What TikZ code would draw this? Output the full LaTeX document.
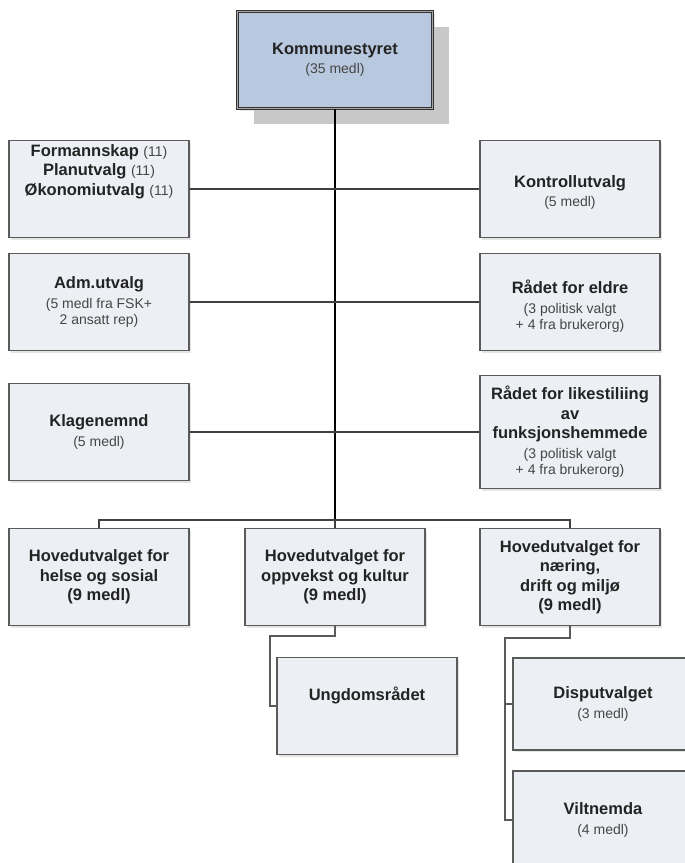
\documentclass[tikz,border=0pt]{standalone}
\usepackage{fontspec}
\setmainfont{Liberation Sans}
\usetikzlibrary{shadows}

\definecolor{boxfill}{RGB}{236,239,243}
\definecolor{boxline}{RGB}{90,90,90}
\definecolor{ksfill}{RGB}{184,200,222}
\definecolor{shadowgray}{RGB}{200,200,200}
\definecolor{txtdark}{RGB}{35,35,35}
\definecolor{txtgray}{RGB}{70,70,70}

\newcommand{\medl}[1]{{\fontsize{14}{17}\selectfont\mdseries\color{txtgray}#1}}

\tikzset{
  unit/.style={draw=boxline, fill=boxfill, line width=1.4pt, minimum width=180pt,
    minimum height=97pt, align=center, inner sep=2pt, text=txtdark,
    font=\fontsize{16.5}{19.5}\selectfont\bfseries,
    drop shadow={shadow xshift=2pt, shadow yshift=-2pt, fill=black!10, opacity=1}},
  trunk/.style={draw=black, line width=2pt},
  link/.style={draw=black!75, line width=1.4pt},
  sublink/.style={draw=boxline, line width=1.8pt},
}

\begin{document}
\begin{tikzpicture}[x=1pt, y=-1pt]
\fill[white] (0,0) rectangle (685,863);
\useasboundingbox (0,0) rectangle (685,863);
\clip (0,0) rectangle (685,863);

% top
\node[unit, fill=ksfill, minimum width=195pt, minimum height=97pt, draw=black!80,
  double=black!35, double distance=1pt, line width=1.1pt,
  drop shadow={shadow xshift=16pt, shadow yshift=-15pt, fill=shadowgray, opacity=1}]
  (ks) at (335,60) {Kommunestyret\\\medl{(35 medl)}};

% left and right column
\node[unit, text depth=38pt] (fsk) at (99,189)
  {Formannskap \medl{(11)}\\Planutvalg \medl{(11)}\\Økonomiutvalg \medl{(11)}};
\node[unit, text height=38pt] (kon) at (570,189) {Kontrollutvalg\\\medl{(5 medl)}};
\node[unit] (adm) at (99,302) {Adm.utvalg\\\medl{(5 medl fra FSK+}\\[-3pt]\medl{2 ansatt rep)}};
\node[unit, text height=58pt] (eld) at (570,302) {Rådet for eldre\\\medl{(3 politisk valgt}\\[-3pt]\medl{+ 4 fra brukerorg)}};
\node[unit] (kla) at (99,432) {Klagenemnd\\\medl{(5 medl)}};
\node[unit, minimum height=113pt] (lik) at (570,432)
  {Rådet for likestiliing\\av\\funksjonshemmede\\\medl{(3 politisk valgt}\\[-3pt]\medl{+ 4 fra brukerorg)}};

% hovedutvalg
\node[unit] (hs) at (99,577) {Hovedutvalget for\\helse og sosial\\(9 medl)};
\node[unit] (ok) at (335,577) {Hovedutvalget for\\oppvekst og kultur\\(9 medl)};
\node[unit] (nd) at (570,577) {Hovedutvalget for\\næring,\\drift og miljø\\(9 medl)};

% under hovedutvalg
\node[unit, text depth=25pt] (ung) at (367,706) {Ungdomsrådet};
\node[unit, minimum height=92pt] (dis) at (603,704) {Disputvalget\\\medl{(3 medl)}};
\node[unit, minimum height=98pt] (vil) at (603,820) {Viltnemda\\\medl{(4 medl)}};

% connectors
\coordinate (bus) at (335,520);
\coordinate (okdrop) at (270,636);
\coordinate (nddrop) at (505,638);

\draw[trunk] (ks.south) -- (bus);
\draw[link] (fsk.east) -- (kon.west);
\draw[link] (adm.east) -- (eld.west);
\draw[link] (kla.east) -- (lik.west);
\draw[link] (hs.north) -- (hs.north |- bus) -- (nd.north |- bus) -- (nd.north);
\draw[link] (ok.north) -- (bus);
\draw[sublink] (ok.south) |- (okdrop) |- (ung.west);
\draw[sublink] (nd.south) |- (nddrop) |- (vil.west);
\draw[sublink] (nddrop |- dis.west) -- (dis.west);
\end{tikzpicture}
\end{document}
